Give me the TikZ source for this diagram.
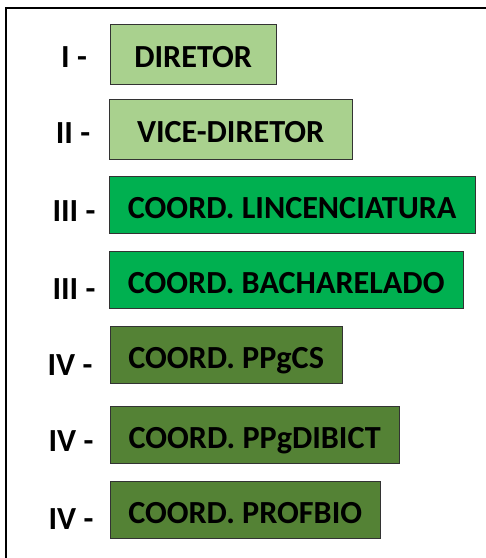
\documentclass[tikz,border=0pt]{standalone}
\usepackage{fontspec}
\setmainfont{Carlito}
\usepackage{xcolor}
\definecolor{verdeclaro}{HTML}{A9D18E}
\definecolor{verde}{HTML}{00B050}
\definecolor{verdeescuro}{HTML}{548235}

\begin{document}
\begin{tikzpicture}[x=1pt, y=-1pt, font=\fontsize{32.2}{36}\selectfont\bfseries]
\tikzstyle{cargo} = [draw=black!80, thin, anchor=west, minimum height=57pt, inner sep=0pt, text=black, text height=27pt, text depth=0pt]
\tikzstyle{nivel} = [text=black, inner sep=0pt]

\useasboundingbox (0,0) rectangle (486,558);
\draw[line width=2pt] (486,8) -- (6,8) -- (6,558);

\node[cargo, fill=verdeclaro, minimum width=166pt, minimum height=60pt] (dir) at (110,54) {DIRETOR};
\node[cargo, fill=verdeclaro, minimum width=243pt, minimum height=60pt] (vice) at (109,129) {VICE-DIRETOR};
\node[cargo, fill=verde, minimum width=366pt] (lic) at (109,205) {COORD. LINCENCIATURA};
\node[cargo, fill=verde, minimum width=354pt] (bac) at (109,280) {COORD. BACHARELADO};
\node[cargo, fill=verdeescuro, minimum width=232pt] (ppgcs) at (110,355) {COORD. PPgCS};
\node[cargo, fill=verdeescuro, minimum width=289pt] (ppgd) at (110,435) {COORD. PPgDIBICT};
\node[cargo, fill=verdeescuro, minimum width=270pt] (prof) at (110,510) {COORD. PROFBIO};

\node[nivel] (n1) at (74,57) {I -};
\node[nivel] (n2) at (73,133) {II -};
\node[nivel] (n3) at (74,211) {III -};
\node[nivel] (n4) at (74,289) {III -};
\node[nivel] (n5) at (70,365) {IV -};
\node[nivel] (n6) at (71,441) {IV -};
\node[nivel] (n7) at (71,519) {IV -};

\end{tikzpicture}
\end{document}
